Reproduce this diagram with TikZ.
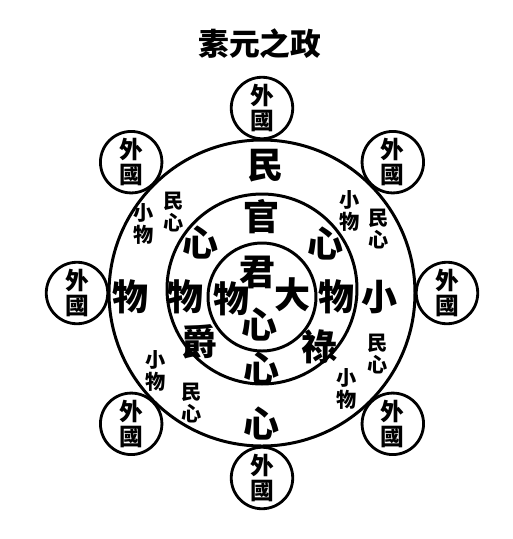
\documentclass[tikz,border=0pt]{standalone}
\usepackage{fontspec}
\usetikzlibrary{calc}
\newfontfamily\cjk{Noto Sans CJK TC}

\tikzset{
    ring/.style={line width=1.7pt},
    bigchar/.style={font=\cjk\bfseries\fontsize{20.5}{20.5}\selectfont, inner sep=0pt},
    smallcol/.style={font=\cjk\bfseries\fontsize{11.5}{12.5}\selectfont, align=center, inner sep=0pt},
    waiguo/.style={draw, circle, line width=1.6pt, minimum size=35pt, inner sep=0pt,
        fill=white, align=center, font=\cjk\bfseries\fontsize{13.5}{14.5}\selectfont}
}

\begin{document}
\begin{tikzpicture}[x=0.02cm, y=-0.02cm]
    \useasboundingbox (0,0) rectangle (512,539);
    \fill[white] (0,0) rectangle (512,539);

    \node[font=\cjk\bfseries\fontsize{17.5}{17.5}\selectfont] (title) at (260,44) {素元之政};

    % the three rings
    \coordinate (c) at (262,293);
    \coordinate (cm) at (262,289);
    \coordinate (ci) at (262,297);
    \draw[ring] (c) circle (153);
    \draw[ring] (cm) circle (95);
    \draw[ring] (ci) circle (54);

    % foreign states round the outside
    \foreach \a [count=\i] in {90,45,0,-45,-90,-135,180,135}
        \node[waiguo] (wg\i) at ($(c)+(\a:185)$) {外\\國};

    % big characters
    \node[bigchar] (min) at (266,166) {民};
    \node[bigchar] (guan) at (262,217) {官};
    \node[bigchar] (xinL) at (201,242) {心};
    \node[bigchar] (xinR) at (326,243) {心};
    \node[bigchar] (jun) at (258,272) {君};
    \node[bigchar] (da) at (293,295) {大};
    \node[bigchar] (wuIn) at (232,299) {物};
    \node[bigchar] (xinIn) at (260,324) {心};
    \node[bigchar] (wuL) at (186,297) {物};
    \node[bigchar] (wuR) at (337,297) {物};
    \node[bigchar] (jue) at (200,342) {爵};
    \node[bigchar] (lu) at (320,347) {祿};
    \node[bigchar] (xinB) at (262,368) {心};
    \node[bigchar] (xinOut) at (262,423) {心};
    \node[bigchar] (wuOut) at (131,297) {物};
    \node[bigchar] (xiao) at (380,297) {小};

    % small columns in the outer ring
    \node[smallcol] (ulA) at (144,224) {小\\物};
    \node[smallcol] (ulB) at (174,212) {民\\心};
    \node[smallcol] (urA) at (350,211) {小\\物};
    \node[smallcol] (urB) at (379,229) {民\\心};
    \node[smallcol] (lrA) at (378,354) {民\\心};
    \node[smallcol] (lrB) at (347,389) {小\\物};
    \node[smallcol] (llA) at (156,371) {小\\物};
    \node[smallcol] (llB) at (192,403) {民\\心};
\end{tikzpicture}
\end{document}
